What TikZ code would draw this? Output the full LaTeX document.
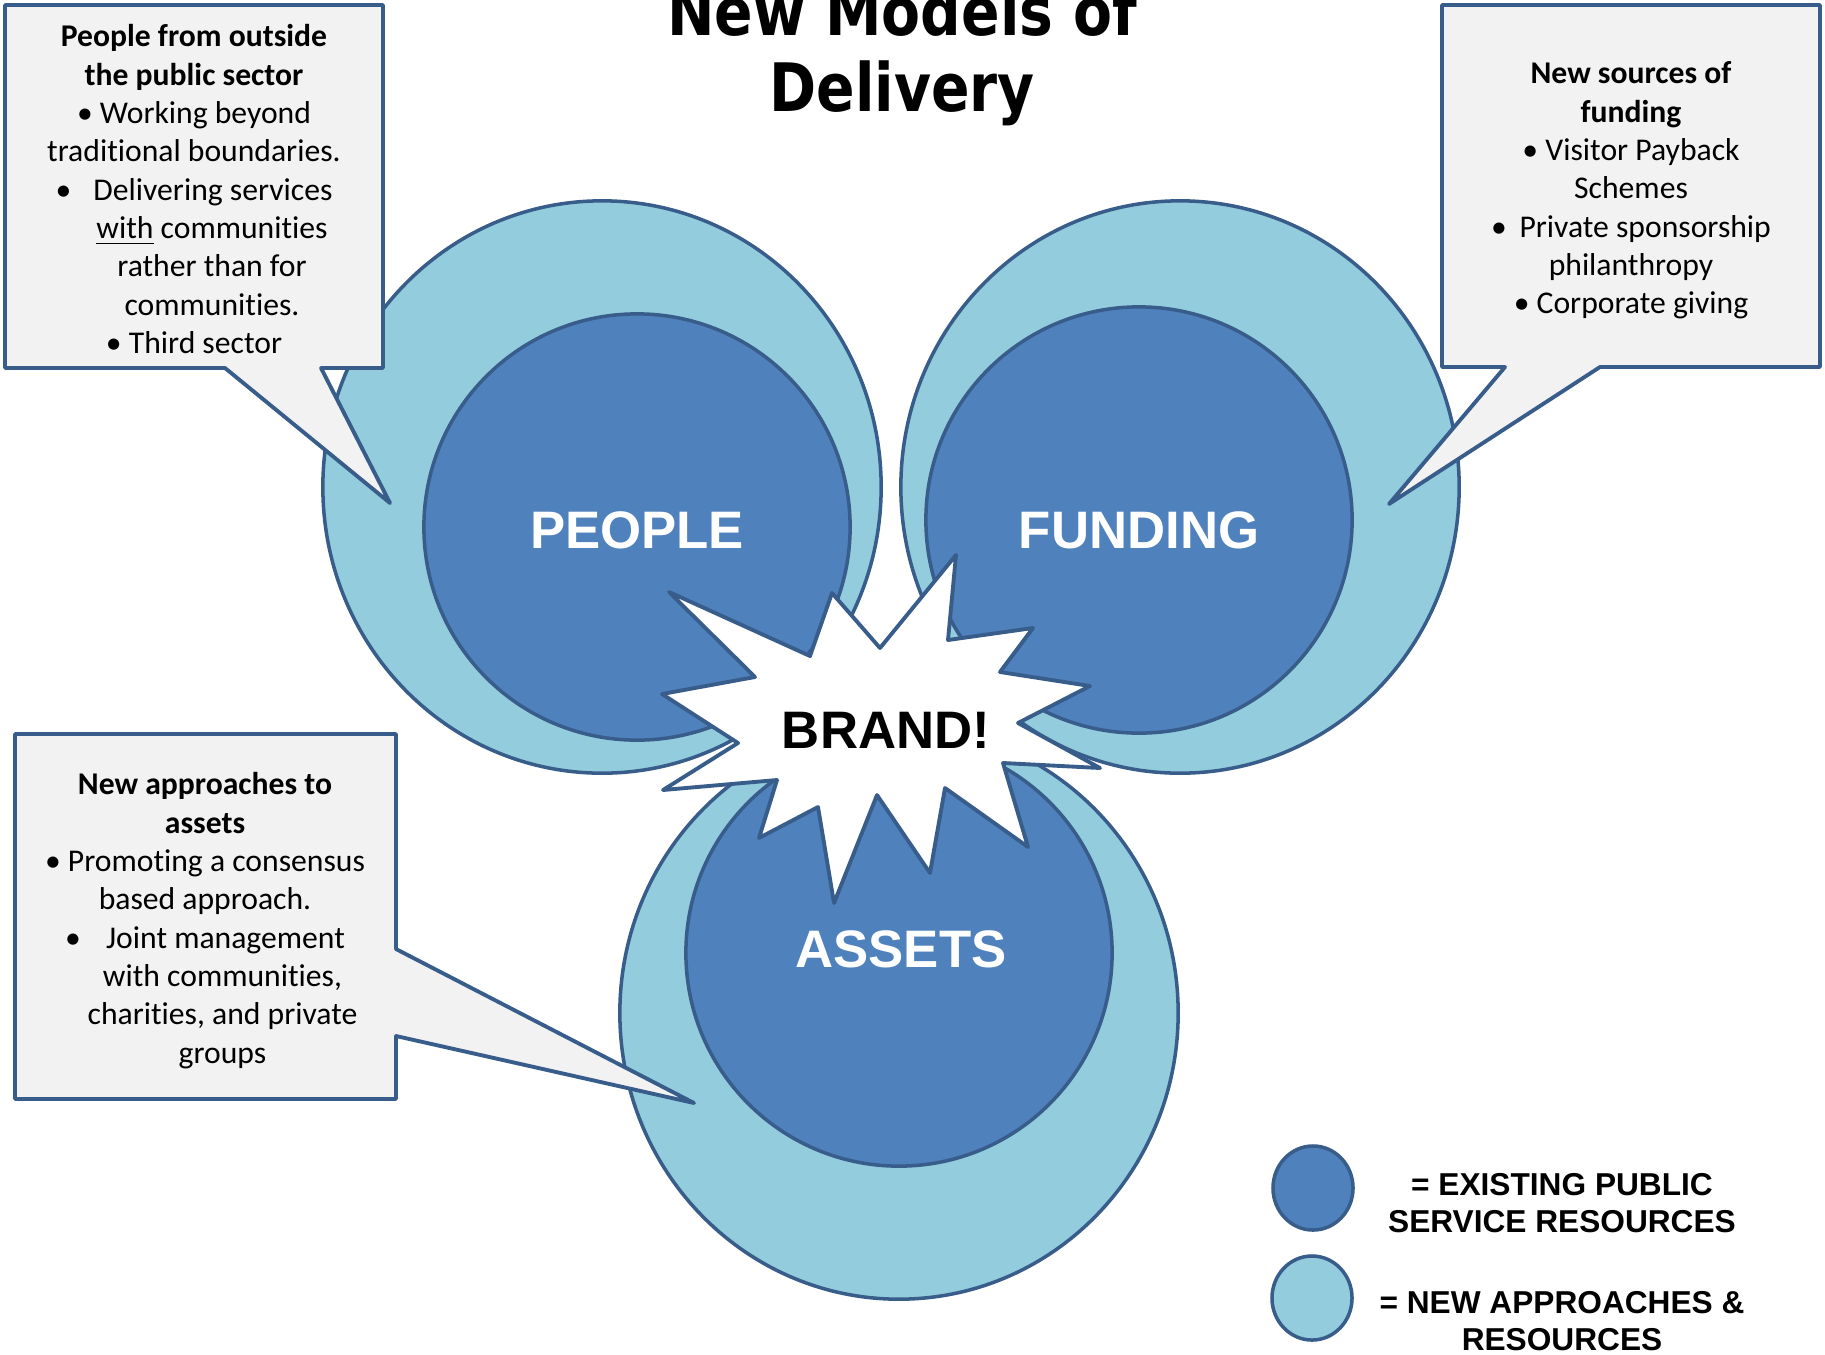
\documentclass[tikz,border=0pt]{standalone}
\usepackage{fontspec}
\setmainfont[Ligatures=NoCommon]{Carlito}
\newfontfamily\headfont[FakeStretch=0.85]{DejaVu Sans}
\newfontfamily\capsfont{Liberation Sans}
\usetikzlibrary{shapes.geometric,positioning}
\definecolor{darkblue}{HTML}{4F81BD}
\definecolor{lightblue}{HTML}{93CDDD}
\definecolor{lineblue}{HTML}{385D8A}
\definecolor{boxgray}{HTML}{F2F2F2}

\begin{document}
\begin{tikzpicture}[x=0.01cm,y=-0.01cm,
  newres/.style={ellipse,draw=lineblue,fill=lightblue,line width=1pt,minimum width=5.58cm,minimum height=5.72cm},
  oldres/.style={circle,draw=lineblue,fill=darkblue,line width=1pt,minimum size=4.26cm},
  reslabel/.style={text=white,font=\capsfont\bfseries\fontsize{15}{18}\selectfont},
  callout/.style={draw=lineblue,fill=boxgray,line width=1.1pt,line join=round},
  notes/.style={align=center,anchor=north,inner sep=0pt,font=\fontsize{9}{10.9}\selectfont},
  key/.style={ellipse,draw=lineblue,line width=1pt,minimum width=0.8cm,minimum height=0.84cm},
  keytext/.style={align=center,inner sep=0pt,font=\capsfont\bfseries\fontsize{9}{10.7}\selectfont}]
\useasboundingbox (0,0) rectangle (1825,1354);
\node[anchor=base,inner sep=0pt,font=\headfont\bfseries\fontsize{19}{22}\selectfont] at (902,35) (title1) {New Models of};
\node[anchor=base,inner sep=0pt,font=\headfont\bfseries\fontsize{19}{22}\selectfont] at (902,111) (title2) {Delivery};

\node[newres] at (602,487) (peopleout) {};
\node[newres] at (1180,487) (fundingout) {};
\node[newres] at (899,1013) (assetsout) {};
\node[oldres] at (637,527) (people) {};
\node[oldres] at (1139,520) (funding) {};
\node[oldres] at (899,953) (assets) {};
\node[reslabel] at (637,530) (peoplelabel) {PEOPLE};
\node[reslabel] at (1139,530) (fundinglabel) {FUNDING};
\node[reslabel] at (901,949) (assetslabel) {ASSETS};

\draw[callout,fill=white] (669,592) -- (810,656) -- (832,593) -- (880,648) -- (956,555) -- (948,640)
  -- (1033,628) -- (1000,672) -- (1090,686) -- (1018,723) -- (1100,768) -- (1003,763)
  -- (1028,847) -- (945,788) -- (930,873) -- (877,795) -- (834,903) -- (818,807)
  -- (759,838) -- (777,780) -- (663,790) -- (738,743) -- (662,694) -- (755,677) -- cycle;
\node[font=\capsfont\bfseries\fontsize{15}{18}\selectfont] at (886,730) (brand) {BRAND!};

\draw[callout] (5,5) -- (383,5) -- (383,368) -- (321,368) -- (390,503) -- (225,368) -- (5,368) -- cycle;
\draw[callout] (1442,5) -- (1820,5) -- (1820,367) -- (1600,367) -- (1389,504) -- (1505,367) -- (1442,367) -- cycle;
\draw[callout] (15,734) -- (396,734) -- (396,949) -- (694,1103) -- (396,1036) -- (396,1099) -- (15,1099) -- cycle;

\node[notes] at (194,24) (peoplenote) {\textbf{People from outside}\\\textbf{the public sector}\\• Working beyond\\traditional boundaries.\\•\hspace{0.7em}Delivering services\\\hspace*{0.36cm}\underline{with} communities\\\hspace*{0.36cm}rather than for\\\hspace*{0.36cm}communities.\\• Third sector};
\node[notes] at (1631,61) (fundingnote) {\textbf{New sources of}\\\textbf{funding}\\• Visitor Payback\\Schemes\\•\hspace{0.4em}Private sponsorship\\philanthropy\\• Corporate giving};
\node[notes] at (205,772) (assetsnote) {\textbf{New approaches to}\\\textbf{assets}\\• Promoting a consensus\\based approach.\\•\hspace{0.8em}Joint management\\\hspace*{0.35cm}with communities,\\\hspace*{0.35cm}charities, and private\\\hspace*{0.35cm}groups};

\node[key,fill=darkblue] at (1313,1188) (oldkey) {};
\node[key,fill=lightblue] at (1312,1298) (newkey) {};
\node[keytext] at (1562,1203) (oldkeytext) {= EXISTING PUBLIC\\SERVICE RESOURCES};
\node[keytext] at (1562,1321) (newkeytext) {= NEW APPROACHES \&\\RESOURCES};
\end{tikzpicture}
\end{document}
